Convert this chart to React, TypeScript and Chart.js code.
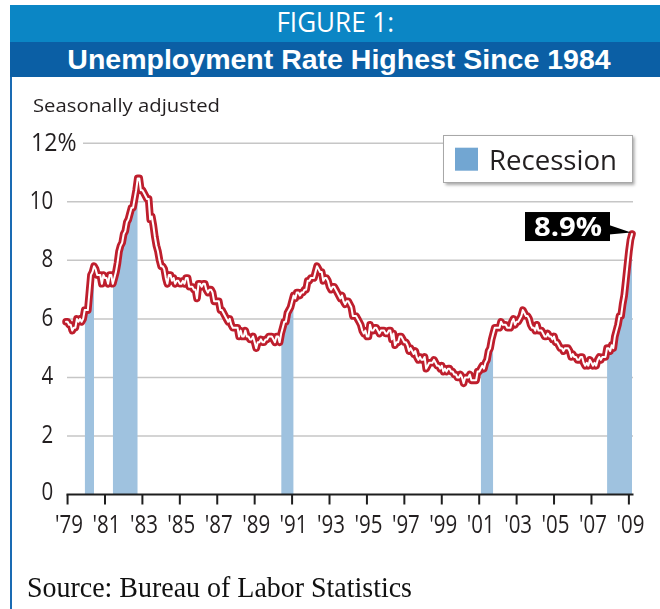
import React, { useEffect, useRef } from "react";
import { Chart, registerables } from "chart.js";

Chart.register(...registerables);

// ---------------- DATA ----------------
const START_YEAR = 1979;

// Monthly unemployment rate, seasonally adjusted (%), Jan 1979 .. Apr 2009
const RATE_1979_1988 = [
  5.9, 5.9, 5.8, 5.8, 5.6, 5.7, 5.7, 6.0, 5.9, 6.0, 5.9, 6.0,
  6.3, 6.3, 6.3, 6.9, 7.5, 7.6, 7.8, 7.7, 7.5, 7.5, 7.5, 7.2,
  7.5, 7.4, 7.4, 7.2, 7.5, 7.5, 7.2, 7.4, 7.6, 7.9, 8.3, 8.5,
  8.6, 8.9, 9.0, 9.3, 9.4, 9.6, 9.8, 9.8, 10.1, 10.4, 10.8, 10.8,
  10.4, 10.4, 10.3, 10.2, 10.1, 10.1, 9.4, 9.5, 9.2, 8.8, 8.5, 8.3,
  8.0, 7.8, 7.8, 7.7, 7.4, 7.2, 7.5, 7.5, 7.3, 7.4, 7.2, 7.3,
  7.3, 7.2, 7.2, 7.3, 7.2, 7.4, 7.4, 7.1, 7.1, 7.1, 7.0, 7.0,
  6.7, 7.2, 7.2, 7.1, 7.2, 7.2, 7.0, 6.9, 7.0, 7.0, 6.9, 6.6,
  6.6, 6.6, 6.6, 6.3, 6.3, 6.2, 6.1, 6.0, 5.9, 6.0, 5.8, 5.7,
  5.7, 5.7, 5.7, 5.4, 5.6, 5.4, 5.4, 5.6, 5.4, 5.4, 5.3, 5.3,
];
const RATE_1989_1998 = [
  5.4, 5.2, 5.0, 5.2, 5.2, 5.3, 5.2, 5.2, 5.3, 5.3, 5.4, 5.4,
  5.4, 5.3, 5.2, 5.4, 5.4, 5.2, 5.5, 5.7, 5.9, 5.9, 6.2, 6.3,
  6.4, 6.6, 6.8, 6.7, 6.9, 6.9, 6.8, 6.9, 6.9, 7.0, 7.0, 7.3,
  7.3, 7.4, 7.4, 7.4, 7.6, 7.8, 7.7, 7.6, 7.6, 7.3, 7.4, 7.4,
  7.3, 7.1, 7.0, 7.1, 7.1, 7.0, 6.9, 6.8, 6.7, 6.8, 6.6, 6.5,
  6.6, 6.6, 6.5, 6.4, 6.1, 6.1, 6.1, 6.0, 5.9, 5.8, 5.6, 5.5,
  5.6, 5.4, 5.4, 5.8, 5.6, 5.6, 5.7, 5.7, 5.6, 5.5, 5.6, 5.6,
  5.6, 5.5, 5.5, 5.6, 5.6, 5.3, 5.5, 5.1, 5.2, 5.2, 5.4, 5.4,
  5.3, 5.2, 5.2, 5.1, 4.9, 5.0, 4.9, 4.8, 4.9, 4.7, 4.6, 4.7,
  4.6, 4.6, 4.7, 4.3, 4.4, 4.5, 4.5, 4.5, 4.6, 4.5, 4.4, 4.4,
];
const RATE_1999_2009 = [
  4.3, 4.4, 4.2, 4.3, 4.2, 4.3, 4.3, 4.2, 4.2, 4.1, 4.1, 4.0,
  4.0, 4.1, 4.0, 3.8, 4.0, 4.0, 4.0, 4.1, 3.9, 3.9, 3.9, 3.9,
  4.2, 4.2, 4.3, 4.4, 4.3, 4.5, 4.6, 4.9, 5.0, 5.3, 5.5, 5.7,
  5.7, 5.7, 5.7, 5.9, 5.8, 5.8, 5.8, 5.7, 5.7, 5.7, 5.9, 6.0,
  5.8, 5.9, 5.9, 6.0, 6.1, 6.3, 6.2, 6.1, 6.1, 6.0, 5.8, 5.7,
  5.7, 5.6, 5.8, 5.6, 5.6, 5.6, 5.5, 5.4, 5.4, 5.5, 5.4, 5.4,
  5.3, 5.4, 5.2, 5.2, 5.1, 5.0, 5.0, 4.9, 5.0, 5.0, 5.0, 4.9,
  4.7, 4.8, 4.7, 4.7, 4.6, 4.6, 4.7, 4.7, 4.5, 4.4, 4.5, 4.4,
  4.6, 4.5, 4.4, 4.5, 4.4, 4.6, 4.7, 4.6, 4.7, 4.7, 4.7, 5.0,
  5.0, 4.9, 5.1, 5.0, 5.4, 5.6, 5.8, 6.1, 6.1, 6.5, 6.8, 7.3,
  7.8, 8.3, 8.7, 8.9,
];
const RATES = [...RATE_1979_1988, ...RATE_1989_1998, ...RATE_1999_2009];

// Recession periods [start, end] as "YYYY-MM"
const RECESSIONS: [string, string][] = [
  ["1980-01", "1980-07"],
  ["1981-07", "1982-11"],
  ["1990-07", "1991-03"],
  ["2001-03", "2001-11"],
  ["2007-12", "2009-04"],
];

const X_TICK_YEARS = [1979, 1981, 1983, 1985, 1987, 1989, 1991, 1993, 1995, 1997, 1999, 2001, 2003, 2005, 2007, 2009];
const X_TICK_LABELS = ["'79", "'81", "'83", "'85", "'87", "'89", "'91", "'93", "'95", "'97", "'99", "'01", "'03", "'05", "'07", "'09"];
const Y_TICKS = [0, 2, 4, 6, 8, 10, 12];
const Y_TICK_LABELS = ["0", "2", "4", "6", "8", "10", "12%"];

const TITLE_TOP = "FIGURE 1:";
const TITLE_MAIN = "Unemployment Rate Highest Since 1984";
const SUBTITLE = "Seasonally adjusted";
const SOURCE = "Source: Bureau of Labor Statistics";
const LEGEND_LABEL = "Recession";
const CALLOUT = "8.9%";

// ---------------- helpers ----------------
const monthIndex = (ym: string) => {
  const [y, m] = ym.split("-").map(Number);
  return (y - START_YEAR) * 12 + (m - 1);
};

const RED = "#be1e2d";
const BAR_BLUE = "#9fc2df";
const LEGEND_BLUE = "#72a6d2";

function drawScaled(
  ctx: CanvasRenderingContext2D,
  text: string,
  x: number,
  y: number,
  font: string,
  color: string,
  align: CanvasTextAlign,
  opts: { sx?: number; width?: number }
) {
  ctx.save();
  ctx.font = font;
  let sx = opts.sx ?? 1;
  if (opts.width) sx = opts.width / ctx.measureText(text).width;
  ctx.translate(x, y);
  ctx.scale(sx, 1);
  ctx.textAlign = align;
  ctx.textBaseline = "alphabetic";
  ctx.fillStyle = color;
  ctx.fillText(text, 0, 0);
  ctx.restore();
}

const TICK_FONT = "25px 'Open Sans'";
const TICK_SX = 0.82;

const decorPlugin = {
  id: "decor",
  beforeDatasetsDraw(chart: any) {
    const { ctx, scales } = chart;
    const xs = scales.x;
    const ys = scales.y;
    ctx.save();
    ctx.strokeStyle = "#c6c6c6";
    ctx.lineWidth = 1.5;
    Y_TICKS.forEach((v) => {
      if (v === 0) return;
      const y = ys.getPixelForValue(v);
      const x0 = v === 12 ? xs.left + 17 : xs.left + 1;
      ctx.beginPath();
      ctx.moveTo(x0, y);
      ctx.lineTo(xs.right + 1, y);
      ctx.stroke();
    });
    ctx.restore();
  },
  afterDatasetsDraw(chart: any) {
    const { ctx, scales } = chart;
    const xs = scales.x;
    const ys = scales.y;
    const y0 = ys.getPixelForValue(0);

    // x axis line and ticks
    ctx.save();
    ctx.strokeStyle = "#1e1e1e";
    ctx.lineWidth = 2;
    ctx.beginPath();
    ctx.moveTo(xs.left + 0.5, y0);
    ctx.lineTo(xs.right + 1.5, y0);
    ctx.stroke();
    X_TICK_YEARS.forEach((yr, i) => {
      const x = xs.getPixelForValue((yr - START_YEAR) * 12 + 1);
      ctx.beginPath();
      ctx.moveTo(x, y0);
      ctx.lineTo(x, y0 + 10);
      ctx.stroke();
      drawScaled(ctx, X_TICK_LABELS[i], x + 1.5, y0 + 38.5, TICK_FONT, "#231f20", "center", { sx: TICK_SX });
    });
    ctx.restore();

    // y labels
    Y_TICKS.forEach((v, i) => {
      const y = ys.getPixelForValue(v);
      if (v === 12) {
        drawScaled(ctx, Y_TICK_LABELS[i], xs.left - 35, y + 8, TICK_FONT, "#231f20", "left", { width: 45.5 });
      } else {
        drawScaled(ctx, Y_TICK_LABELS[i], xs.left - 12.7, y + (v === 0 ? 5 : 7), TICK_FONT, "#231f20", "right", { sx: TICK_SX });
      }
    });

    // legend box
    const lx = xs.right - 189;
    const ly = ys.top - 8.3;
    const lw = 190;
    const lh = 48;
    ctx.save();
    ctx.shadowColor = "rgba(0,0,0,0.35)";
    ctx.shadowBlur = 3;
    ctx.shadowOffsetX = 1.5;
    ctx.shadowOffsetY = 2;
    ctx.fillStyle = "#ffffff";
    ctx.fillRect(lx, ly, lw, lh);
    ctx.restore();
    ctx.save();
    ctx.strokeStyle = "#a8a8a8";
    ctx.lineWidth = 1;
    ctx.strokeRect(lx + 0.5, ly + 0.5, lw - 1, lh - 1);
    ctx.fillStyle = LEGEND_BLUE;
    ctx.fillRect(lx + 12, ly + 12.7, 23, 23);
    ctx.restore();
    drawScaled(ctx, LEGEND_LABEL, lx + 46, ly + 35, "28px 'Open Sans'", "#231f20", "left", { width: 128 });

    // callout
    const last = RATES.length - 1;
    const px = xs.getPixelForValue(last);
    const py = ys.getPixelForValue(RATES[last]);
    const bx1 = px - 22;
    const bx0 = bx1 - 85;
    const by0 = py - 22;
    const by1 = py + 7;
    ctx.save();
    ctx.fillStyle = "#000000";
    ctx.fillRect(bx0, by0, bx1 - bx0, by1 - by0);
    ctx.beginPath();
    ctx.moveTo(bx1 - 1, py - 9);
    ctx.lineTo(px - 1, py - 1.5);
    ctx.lineTo(bx1 - 1, py + 0.5);
    ctx.closePath();
    ctx.fill();
    ctx.restore();
    drawScaled(ctx, CALLOUT, (bx0 + bx1) / 2 + 0.5, py + 2, "bold 26px 'Open Sans'", "#ffffff", "center", { width: 68 });
  },
  afterDraw(chart: any) {
    const { ctx } = chart;
    drawScaled(ctx, SUBTITLE, 33, 112, "19px 'Open Sans'", "#231f20", "left", { width: 187 });
    drawScaled(ctx, SOURCE, 27, 597, "30px 'Liberation Serif'", "#111111", "left", { width: 385 });
  },
};

// ---------------- component ----------------
export default function App() {
  const canvasRef = useRef<HTMLCanvasElement | null>(null);

  useEffect(() => {
    if (!canvasRef.current) return;
    const linePoints = RATES.map((v, i) => ({ x: i, y: v }));
    const ranges = RECESSIONS.map(([a, b]) => [monthIndex(a), monthIndex(b)]);
    const recessionPoints = RATES.map((v, i) => ({
      x: i,
      y: ranges.some(([a, b]) => i >= a && i <= b) ? v : null,
    }));

    const chart = new Chart(canvasRef.current, {
      type: "line",
      data: {
        datasets: [
          {
            label: "Unemployment (inner)",
            data: linePoints,
            borderColor: "#ffffff",
            borderWidth: 2,
            pointRadius: 0,
            tension: 0,
            borderJoinStyle: "round",
            borderCapStyle: "round",
            fill: false,
            clip: false,
            order: 0,
          } as any,
          {
            label: "Unemployment rate",
            data: linePoints,
            borderColor: RED,
            borderWidth: 7.6,
            pointRadius: 0,
            tension: 0,
            borderJoinStyle: "round",
            borderCapStyle: "round",
            fill: false,
            clip: false,
            order: 1,
          } as any,
          {
            label: LEGEND_LABEL,
            data: recessionPoints,
            borderWidth: 0,
            borderColor: "rgba(0,0,0,0)",
            backgroundColor: BAR_BLUE,
            pointRadius: 0,
            tension: 0,
            spanGaps: false,
            fill: "origin",
            order: 2,
          } as any,
        ],
      },
      options: {
        animation: false,
        responsive: false,
        maintainAspectRatio: false,
        devicePixelRatio: 1,
        layout: { padding: { left: 66, right: 28, top: 143.3, bottom: 114.5 } },
        scales: {
          x: { type: "linear", display: false, min: 0, max: RATES.length - 1 },
          y: { type: "linear", display: false, min: 0, max: 12 },
        },
        plugins: {
          legend: { display: false },
          tooltip: { enabled: false },
        },
      },
      plugins: [decorPlugin],
    });
    return () => chart.destroy();
  }, []);

  return (
    <div style={{ position: "absolute", left: 0, top: 0, width: 660, height: 609, background: "#ffffff", overflow: "hidden" }}>
      <div style={{ position: "absolute", left: 10, top: 5, width: 2, height: 604, background: "#1a6bb3" }} />
      <div
        style={{
          position: "absolute", left: 10, top: 5, width: 650, height: 37, background: "#0b86c5",
          color: "#ffffff", textAlign: "center", font: "400 28px 'Open Sans'", lineHeight: "37px",
        }}
      >
        <span style={{ display: "inline-block", transform: "translateY(-2px) scaleX(0.93)" }}>{TITLE_TOP}</span>
      </div>
      <div
        style={{
          position: "absolute", left: 10, top: 42, width: 650, height: 35, background: "#0b5fa5",
          color: "#ffffff", textAlign: "center", font: "bold 28.5px 'Liberation Sans'", lineHeight: "35px",
        }}
      >
        <span style={{ display: "inline-block", transform: "translateX(4px)" }}>{TITLE_MAIN}</span>
      </div>
      <canvas ref={canvasRef} width={660} height={609} style={{ position: "absolute", left: 0, top: 0, width: 660, height: 609 }} />
    </div>
  );
}
